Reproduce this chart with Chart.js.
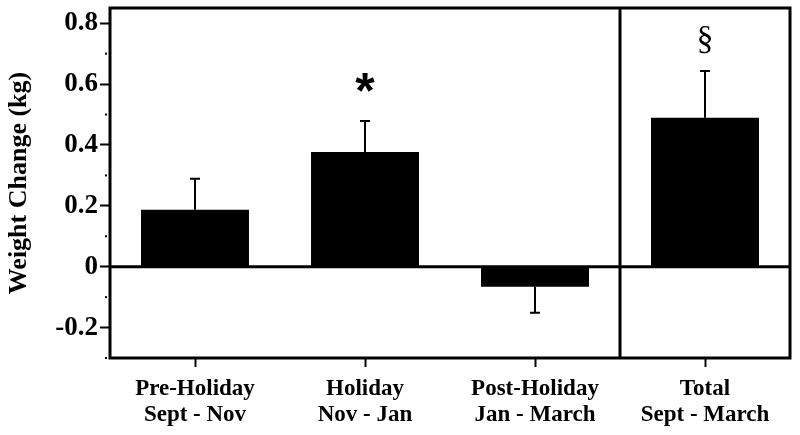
<!DOCTYPE html>
<html>
<head>
<meta charset="utf-8">
<script src="https://cdn.jsdelivr.net/npm/chart.js@4"></script>
<style>
  html, body { margin: 0; padding: 0; background: #fff; }
  #wrap { width: 800px; height: 435px; }
</style>
</head>
<body>
<div id="wrap"><canvas id="c" width="800" height="435"></canvas></div>
<script>
// ---- data ----
const categories = [
  ['Pre-Holiday', 'Sept - Nov'],
  ['Holiday', 'Nov - Jan'],
  ['Post-Holiday', 'Jan - March'],
  ['Total', 'Sept - March']
];
const weightChange = [0.187, 0.377, -0.066, 0.489];
const errorSE = [0.102, 0.102, 0.085, 0.154];
const significanceMarks = ['', '*', '', '§'];
const yMajorTicks = [-0.2, 0, 0.2, 0.4, 0.6, 0.8];
const yMinorTicks = [-0.3, -0.1, 0.1, 0.3, 0.5, 0.7];

const SERIF = '"Liberation Serif", "Times New Roman", serif';

const overlayPlugin = {
  id: 'overlay',
  afterDatasetsDraw(chart) {
    const ctx = chart.ctx;
    const x = chart.scales.x, y = chart.scales.y;
    const area = chart.chartArea;
    const meta = chart.getDatasetMeta(0);
    ctx.save();
    // error bars
    ctx.strokeStyle = '#000';
    ctx.lineWidth = 2;
    meta.data.forEach((bar, i) => {
      const v = weightChange[i];
      const e = errorSE[i];
      const end = v >= 0 ? v + e : v - e;
      const yv = y.getPixelForValue(v);
      const ye = y.getPixelForValue(end);
      ctx.beginPath();
      ctx.moveTo(bar.x, yv);
      ctx.lineTo(bar.x, ye);
      ctx.moveTo(bar.x - 5, ye);
      ctx.lineTo(bar.x + 5, ye);
      ctx.stroke();
      // significance marks
      const m = significanceMarks[i];
      if (m) {
        ctx.fillStyle = '#000';
        ctx.textAlign = 'center';
        ctx.textBaseline = 'middle';
        if (m === '*') {
          ctx.font = 'bold 50px "Liberation Sans", Arial, sans-serif';
          ctx.fillText(m, bar.x, ye - 27);
        } else {
          ctx.font = '34px ' + SERIF;
          ctx.fillText(m, bar.x, ye - 31);
        }
      }
    });
    // zero line
    const y0 = y.getPixelForValue(0);
    ctx.lineWidth = 3;
    ctx.beginPath();
    ctx.moveTo(area.left, y0);
    ctx.lineTo(area.right, y0);
    ctx.stroke();
    // divider between period bars and total
    const xd = (x.getPixelForValue(2) + x.getPixelForValue(3)) / 2;
    ctx.beginPath();
    ctx.moveTo(xd, area.top);
    ctx.lineTo(xd, area.bottom);
    ctx.stroke();
    // box
    ctx.strokeRect(area.left, area.top, area.right - area.left, area.bottom - area.top);
    // minor dots on y axis
    ctx.fillStyle = '#000';
    yMinorTicks.forEach(v => {
      const py = y.getPixelForValue(v);
      ctx.fillRect(area.left - 5, py - 1, 2, 2);
    });
    ctx.restore();
  }
};

new Chart(document.getElementById('c'), {
  type: 'bar',
  data: {
    labels: categories,
    datasets: [{
      data: weightChange,
      backgroundColor: '#000',
      borderWidth: 0,
      barPercentage: 0.635,
      categoryPercentage: 1.0
    }]
  },
  options: {
    responsive: false,
    animation: false,
    devicePixelRatio: 1,
    layout: { padding: { top: 8, right: 10, left: 0, bottom: 0 } },
    plugins: { legend: { display: false }, tooltip: { enabled: false } },
    scales: {
      x: {
        grid: { display: true, drawOnChartArea: false, offset: false, tickLength: 9, tickColor: '#000', tickWidth: 2 },
        border: { display: false },
        ticks: {
          color: '#000',
          padding: 9,
          maxRotation: 0,
          font: { family: SERIF, size: 23, weight: 'bold', lineHeight: 1.13 }
        },
        afterFit(scale) { scale.height = 77; }
      },
      y: {
        min: -0.3,
        max: 0.85,
        afterBuildTicks(scale) { scale.ticks = yMajorTicks.map(v => ({ value: v })); },
        grid: { display: true, drawOnChartArea: false, tickLength: 10, tickColor: '#000', tickWidth: 2 },
        border: { display: false },
        ticks: {
          color: '#000',
          padding: 2,
          font: { family: SERIF, size: 27, weight: 'bold' },
          callback: v => String(Math.round(v * 10) / 10)
        },
        title: {
          display: true,
          text: 'Weight Change (kg)',
          color: '#000',
          font: { family: SERIF, size: 26, weight: 'bold' },
          padding: { top: 4, bottom: 0 }
        },
        afterFit(scale) { scale.width = 110; scale.paddingTop = 0; scale.paddingBottom = 0; }
      }
    }
  },
  plugins: [overlayPlugin]
});
</script>
</body>
</html>
